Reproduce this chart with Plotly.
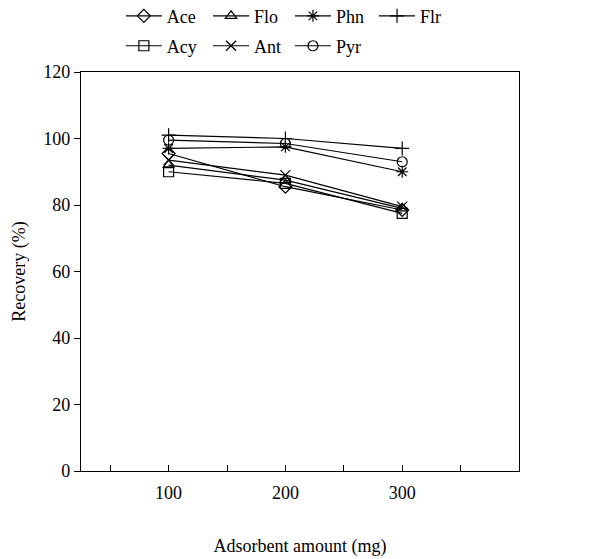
import plotly.graph_objects as go

amounts = [100, 200, 300]
ace = [95.5, 85.5, 78.5]
flo = [92.0, 87.5, 79.0]
phn = [97.0, 97.5, 90.0]
flr = [101.0, 100.0, 97.0]
acy = [90.0, 86.5, 77.5]
ant = [93.5, 89.0, 79.5]
pyr = [99.5, 98.5, 93.0]

series = [
    ("Ace", ace, "diamond-open"),
    ("Flo", flo, "triangle-up-open"),
    ("Phn", phn, "asterisk-open"),
    ("Flr", flr, "cross-thin-open"),
    ("Acy", acy, "square-open"),
    ("Ant", ant, "x-thin-open"),
    ("Pyr", pyr, "circle-open"),
]
# legend grid placement (paper coords): columns and rows
leg_x = [0.091, 0.290, 0.477, 0.669, 0.091, 0.290, 0.477]
leg_y = [1.140, 1.140, 1.140, 1.140, 1.065, 1.065, 1.065]

FONT = "Liberation Serif"
fig = go.Figure()
legends = {}
for i, (name, vals, sym) in enumerate(series):
    key = "legend" if i == 0 else f"legend{i+1}"
    fig.add_trace(go.Scatter(
        x=amounts, y=vals, name=name, mode="lines+markers",
        line=dict(color="black", width=1.2),
        marker=dict(symbol=sym, size=10, color="black", line=dict(color="black", width=1.2)),
        legend=key, showlegend=True,
    ))
    legends[key] = dict(x=leg_x[i], y=leg_y[i], xanchor="left", yanchor="middle",
                        orientation="h", bgcolor="rgba(0,0,0,0)", itemwidth=36,
                        font=dict(family=FONT, size=18, color="black"))

fig.update_layout(
    width=608, height=559, showlegend=True,
    margin=dict(l=73, r=97, t=64, b=96, autoexpand=False),
    paper_bgcolor="white", plot_bgcolor="white",
    font=dict(family=FONT, size=18, color="black"),
    xaxis=dict(
        range=[25, 400], tickvals=[50, 100, 150, 200, 250, 300, 350],
        ticktext=["", "100", "", "200", "", "300", ""],
        ticks="inside", ticklen=6, tickcolor="black", tickwidth=1,
        ticklabelstandoff=5,
        showline=True, linecolor="black", linewidth=1.2, mirror=True,
        showgrid=False, zeroline=False, automargin=False,
        title=dict(text="Adsorbent amount (mg)", font=dict(family=FONT, size=18), standoff=37),
        tickfont=dict(family=FONT, size=18, color="black"),
    ),
    yaxis=dict(
        range=[0, 120], dtick=20, tick0=0,
        ticks="outside", ticklen=6, tickcolor="black", tickwidth=1,
        showline=True, linecolor="black", linewidth=1.2, mirror=True,
        showgrid=False, zeroline=False, automargin=False,
        title=dict(text="Recovery (%)", font=dict(family=FONT, size=18), standoff=12),
        tickfont=dict(family=FONT, size=18, color="black"),
    ),
    **legends,
)

fig.write_html("out.html")
